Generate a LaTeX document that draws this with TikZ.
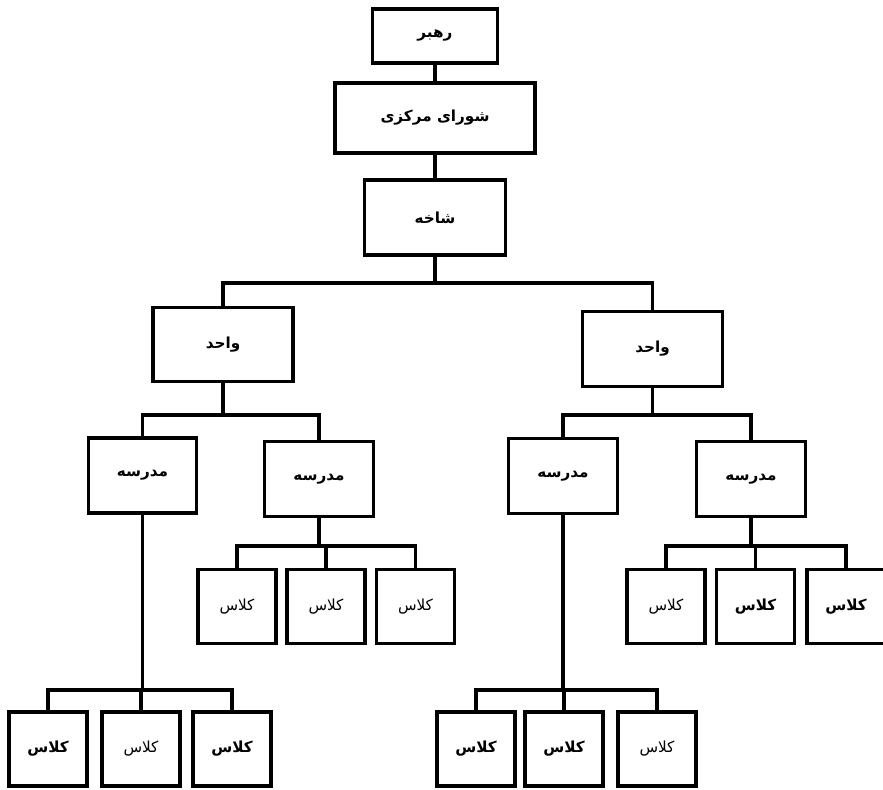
\documentclass[tikz,border=0pt]{standalone}
\usepackage{fontspec}
\newfontfamily\arabicfont[Script=Arabic]{DejaVu Sans}
\TeXXeTstate=1
\newcommand{\fatxt}[1]{{\arabicfont\beginR #1\endR}}
\tikzset{
  box/.style={draw, line width=2.8pt, inner sep=2pt, font=\fontsize{13}{15}\selectfont\bfseries},
  thin/.style={font=\fontsize{13}{15}\selectfont\mdseries},
  vahed/.style={box, minimum width=4.2cm, minimum height=2.24cm},
  madrese/.style={box, minimum width=3.25cm, minimum height=2.25cm},
  kelas/.style={box, minimum width=2.34cm, minimum height=2.22cm}
}
\begin{document}
\begin{tikzpicture}[x=0.03cm, y=-0.03cm, line width=2.8pt]
      \useasboundingbox (0,0) rectangle (883,790);
      \draw
        (435,36) node[box, minimum width=3.75cm, minimum height=1.62cm] (rahbar){\fatxt{رهبر}}
        (435,118) node[box, minimum width=6cm, minimum height=2.1cm] (shura){\fatxt{شورای مرکزی}}
        (435,217.5) node[box, minimum width=4.23cm, minimum height=2.25cm] (shakhe){\fatxt{شاخه}}
        (223,344.5) node[vahed] (vahedL){\fatxt{واحد}}
        (652.5,349) node[vahed] (vahedR){\fatxt{واحد}}
        (142.5,475.5) node[madrese] (madreseL1){\fatxt{مدرسه}}
        (319,479) node[madrese] (madreseL2){\fatxt{مدرسه}}
        (563,476) node[madrese] (madreseR1){\fatxt{مدرسه}}
        (751,479) node[madrese] (madreseR2){\fatxt{مدرسه}}
        (237,606.5) node[kelas, thin] (kelasA1){\fatxt{کلاس}}
        (326,606.5) node[kelas, thin] (kelasA2){\fatxt{کلاس}}
        (415.5,606.5) node[kelas, thin] (kelasA3){\fatxt{کلاس}}
        (666,606.5) node[kelas, thin] (kelasB1){\fatxt{کلاس}}
        (755.5,606.5) node[kelas] (kelasB2){\fatxt{کلاس}}
        (846,606.5) node[kelas] (kelasB3){\fatxt{کلاس}}
        (48,749) node[kelas] (kelasC1){\fatxt{کلاس}}
        (141,749) node[kelas, thin] (kelasC2){\fatxt{کلاس}}
        (232,749) node[kelas] (kelasC3){\fatxt{کلاس}}
        (476,749) node[kelas] (kelasD1){\fatxt{کلاس}}
        (564,749) node[kelas] (kelasD2){\fatxt{کلاس}}
        (657,749) node[kelas, thin] (kelasD3){\fatxt{کلاس}};
      \coordinate (jShakhe) at (shakhe.south |- 0,283);
      \coordinate (jVahedL) at (vahedL.south |- 0,415);
      \coordinate (jVahedR) at (vahedR.south |- 0,415);
      \coordinate (jMadreseL1) at (madreseL1.south |- 0,690);
      \coordinate (jMadreseL2) at (madreseL2.south |- 0,546);
      \coordinate (jMadreseR1) at (madreseR1.south |- 0,690);
      \coordinate (jMadreseR2) at (madreseR2.south |- 0,546);
      \begin{scope}[-]
        \draw (rahbar) to (shura);
        \draw (shura) to (shakhe);
        \draw (shakhe) to (jShakhe);
        \draw (jShakhe) -| (vahedL);
        \draw (jShakhe) -| (vahedR);
        \draw (vahedL) to (jVahedL);
        \draw (jVahedL) -| (madreseL1);
        \draw (jVahedL) -| (madreseL2);
        \draw (vahedR) to (jVahedR);
        \draw (jVahedR) -| (madreseR1);
        \draw (jVahedR) -| (madreseR2);
        \draw (madreseL2) to (jMadreseL2);
        \draw (jMadreseL2) -| (kelasA1);
        \draw (jMadreseL2) -| (kelasA2);
        \draw (jMadreseL2) -| (kelasA3);
        \draw (madreseR2) to (jMadreseR2);
        \draw (jMadreseR2) -| (kelasB1);
        \draw (jMadreseR2) -| (kelasB2);
        \draw (jMadreseR2) -| (kelasB3);
        \draw (madreseL1) to (jMadreseL1);
        \draw (jMadreseL1) -| (kelasC1);
        \draw (jMadreseL1) -| (kelasC2);
        \draw (jMadreseL1) -| (kelasC3);
        \draw (madreseR1) to (jMadreseR1);
        \draw (jMadreseR1) -| (kelasD1);
        \draw (jMadreseR1) -| (kelasD2);
        \draw (jMadreseR1) -| (kelasD3);
      \end{scope}
    \end{tikzpicture}
\end{document}
